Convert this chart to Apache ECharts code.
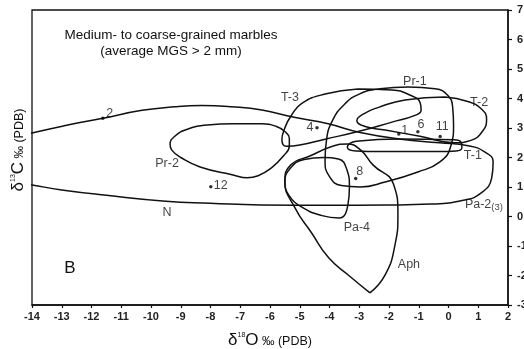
<!DOCTYPE html>
<html>
<head>
<meta charset="utf-8">
<script src="https://cdn.jsdelivr.net/npm/echarts@6/dist/echarts.min.js"></script>
<style>
html,body{margin:0;padding:0;background:#fff;}
#chart{width:524px;height:349px;}
</style>
</head>
<body>
<div id="chart"></div>
<script>
// ---- data (δ18O, δ13C) ----
var xTicks = [-14,-13,-12,-11,-10,-9,-8,-7,-6,-5,-4,-3,-2,-1,0,1,2];
var yTicks = [-3,-2,-1,0,1,2,3,4,5,6,7];

var fieldN = [[-14.6,2.66],[-14,2.83],[-12.8,3.1],[-11.62,3.33],[-10.3,3.6],[-9.2,3.72],[-8.3,3.76],[-7.3,3.72],[-6.27,3.61],[-5.23,3.37],[-4.08,3.15],[-2.97,2.85],[-1.6,2.62],[-0.3,2.5],[0.66,2.4],[1.2,2.2],[1.5,1.85],[1.45,1.3],[1.1,0.8],[0.5,0.55],[-0.6,0.42],[-2.1,0.39],[-4,0.38],[-6.3,0.39],[-8,0.45],[-9.5,0.52],[-11.5,0.72],[-13,0.9],[-14,1.07],[-14.6,1.17]];
var fieldPr2 = [[-7.24,3.14],[-6.27,3.14],[-5.8,3.06],[-5.5,2.88],[-5.35,2.65],[-5.35,2.4],[-5.55,2.05],[-5.95,1.65],[-6.4,1.38],[-6.77,1.31],[-7.24,1.41],[-8.35,1.68],[-9.0,2.0],[-9.3,2.25],[-9.36,2.45],[-9.2,2.72],[-8.8,2.95],[-8.1,3.1],[-7.24,3.14]];
var fieldT3 = [[-3.04,4.32],[-1.9,4.29],[-1.3,4.12],[-0.95,3.85],[-0.92,3.6],[-1.15,3.42],[-1.9,3.2],[-3.04,2.88],[-4.15,2.62],[-5.0,2.42],[-5.45,2.38],[-5.6,2.6],[-5.5,3.0],[-5.3,3.4],[-4.92,3.84],[-4.15,4.15],[-3.04,4.32]];
var fieldPr1 = [[-1.36,4.39],[-0.45,4.33],[-0.02,4.1],[0.14,3.7],[0.17,3.1],[0.08,2.4],[-0.29,1.85],[-1.03,1.51],[-2.13,1.17],[-2.97,1.0],[-3.6,1.05],[-4.0,1.35],[-4.15,1.9],[-4.1,2.6],[-3.9,3.25],[-3.5,3.8],[-3.0,4.15],[-2.3,4.33],[-1.36,4.39]];
var fieldT2 = [[-0.12,4.05],[0.65,3.9],[1.1,3.65],[1.28,3.3],[1.15,2.9],[0.75,2.58],[0.2,2.5],[-0.96,2.72],[-2.13,2.93],[-2.8,3.05],[-3.08,3.25],[-2.85,3.48],[-2.35,3.7],[-1.46,3.95],[-0.12,4.05]];
var fieldT1 = [[-1.63,2.63],[0.15,2.6],[0.42,2.52],[0.45,2.33],[0.25,2.22],[-0.29,2.2],[-2.3,2.2],[-3.1,2.22],[-3.4,2.35],[-3.1,2.55],[-1.63,2.63]];
var fieldPa4 = [[-4.2,2.0],[-3.7,1.95],[-3.42,1.6],[-3.33,1.0],[-3.38,0.4],[-3.68,-0.05],[-4.25,0.03],[-4.9,0.3],[-5.35,0.7],[-5.5,1.17],[-5.3,1.65],[-4.85,1.93],[-4.2,2.0]];
var fieldAph = [[-2.64,-2.59],[-3.35,-2.0],[-4.02,-1.41],[-4.6,-0.56],[-5.16,0.29],[-5.5,1.2],[-5.3,1.75],[-4.66,2.05],[-3.9,2.38],[-3.4,2.46],[-2.95,2.25],[-2.54,1.75],[-1.85,1.1],[-1.7,0.05],[-1.8,-0.97],[-2.13,-1.98],[-2.64,-2.59]];

var sampleNames = ['2','12','4','1','6','11','8'];
var sampleO = [-11.62,-7.99,-4.42,-1.67,-1.03,-0.28,-3.12];
var sampleC = [3.33,1.01,3.01,2.80,2.87,2.71,1.29];

var fieldNames = ['N','Pr-2','T-3','Pr-1','T-2','T-1','Pa-2(3)','Pa-4','Aph'];
var fieldLabelO = [-9.46,-9.46,-5.33,-1.13,1.03,0.82,1.19,-3.08,-1.33];
var fieldLabelC = [0.15,1.81,4.02,4.56,3.85,2.08,0.39,-0.39,-1.64];

// ---- styling (kept separate from data) ----
var sampleLabelOffsets = {'2':[7,-5],'12':[10,-1],'4':[-7,0],'1':[6,-3],'6':[3,-7],'11':[2,-10],'8':[4,-7]};
var FONT = '"Liberation Sans", Arial, sans-serif';

var chart = echarts.init(document.getElementById('chart'), null, {renderer:'canvas'});

function fieldSeries(name, data){
  return {
    name: name, type:'line', data:data, smooth:0.5, symbol:'none', clip:true,
    lineStyle:{color:'#111', width:1.5}, silent:true, z:2
  };
}

var series = [
  fieldSeries('N', fieldN),
  fieldSeries('Pr-2', fieldPr2),
  fieldSeries('T-3', fieldT3),
  fieldSeries('Pr-1', fieldPr1),
  fieldSeries('T-2', fieldT2),
  fieldSeries('T-1', fieldT1),
  fieldSeries('Pa-4', fieldPa4),
  fieldSeries('Aph', fieldAph),
  {
    type:'scatter', symbol:'circle', symbolSize:3.5, z:5,
    itemStyle:{color:'#000'},
    data: sampleNames.map(function(n,i){
      return {name:n, value:[sampleO[i], sampleC[i]],
        label:{show:true, position:'inside', offset:sampleLabelOffsets[n], formatter:n,
               color:'#111', fontSize:12.5, fontFamily:FONT}};
    })
  },
  {
    type:'scatter', symbol:'circle', symbolSize:1, z:6,
    itemStyle:{color:'rgba(0,0,0,0)'},
    data: fieldNames.map(function(n,i){
      var f = n === 'Pa-2(3)' ? '{a|Pa-2}{b|(3)}' : n;
      return {name:n, value:[fieldLabelO[i], fieldLabelC[i]],
        label:{show:true, position:'inside', formatter:f, color:'#111', fontSize:12.5, fontFamily:FONT,
          rich:{a:{fontSize:12.5, fontFamily:FONT, color:'#111'},
                b:{fontSize:9.5, fontFamily:FONT, color:'#111', padding:[4,0,0,0]}}}};
    })
  }
];

var option = {
  animation:false,
  backgroundColor:'#fff',
  grid:{left:32, right:16, top:10, bottom:44, containLabel:false, outerBoundsMode:'none',
        show:true, borderColor:'#111', borderWidth:1.3, backgroundColor:'transparent'},
  xAxis:{
    type:'value', min:xTicks[0], max:xTicks[xTicks.length-1], interval:1,
    axisLine:{show:true, onZero:false, lineStyle:{color:'#111', width:1.5}},
    axisTick:{show:true, length:3, lineStyle:{color:'#111', width:1.2}},
    axisLabel:{fontSize:11, fontWeight:'bold', color:'#222', margin:6, fontFamily:FONT},
    splitLine:{show:false},
    name:'{d|δ}{s|18}{d|O} {n|‰ (PDB)}', nameLocation:'middle', nameGap:27,
    nameTextStyle:{rich:{
      d:{fontSize:17, fontFamily:FONT, color:'#111'},
      s:{fontSize:7, fontFamily:FONT, color:'#111', padding:[0,0,10,0]},
      n:{fontSize:12.5, fontFamily:FONT, color:'#111', padding:[3,0,0,0]}
    }}
  },
  yAxis:{
    type:'value', position:'right', min:yTicks[0], max:yTicks[yTicks.length-1], interval:1,
    axisLine:{show:true, onZero:false, lineStyle:{color:'#111', width:1.5}},
    axisTick:{show:true, length:4, lineStyle:{color:'#111', width:1.2}},
    axisLabel:{fontSize:11, fontWeight:'bold', color:'#222', margin:9, fontFamily:FONT},
    splitLine:{show:false}
  },
  graphic:[
    {type:'text', x:171, y:35, z:10, style:{text:'Medium- to coarse-grained marbles', fontSize:13.5, fontFamily:FONT, fill:'#111', align:'center', verticalAlign:'middle'}},
    {type:'text', x:171, y:51, z:10, style:{text:'(average MGS > 2 mm)', fontSize:13.5, fontFamily:FONT, fill:'#111', align:'center', verticalAlign:'middle'}},
    {type:'text', x:70, y:268, z:10, style:{text:'B', fontSize:17, fontFamily:FONT, fill:'#111', align:'center', verticalAlign:'middle'}},
    {type:'text', x:18, y:150, rotation:Math.PI/2, z:10, style:{
      text:'{d|δ}{s|13}{d|C} {n|‰ (PDB)}', align:'center', verticalAlign:'middle',
      rich:{
        d:{fontSize:17, fontFamily:FONT, fill:'#111', color:'#111'},
        s:{fontSize:7, fontFamily:FONT, fill:'#111', color:'#111', padding:[0,0,10,0]},
        n:{fontSize:12.5, fontFamily:FONT, fill:'#111', color:'#111', padding:[3,0,0,0]}
      }}}
  ],
  series: series
};
chart.setOption(option);
</script>
</body>
</html>
